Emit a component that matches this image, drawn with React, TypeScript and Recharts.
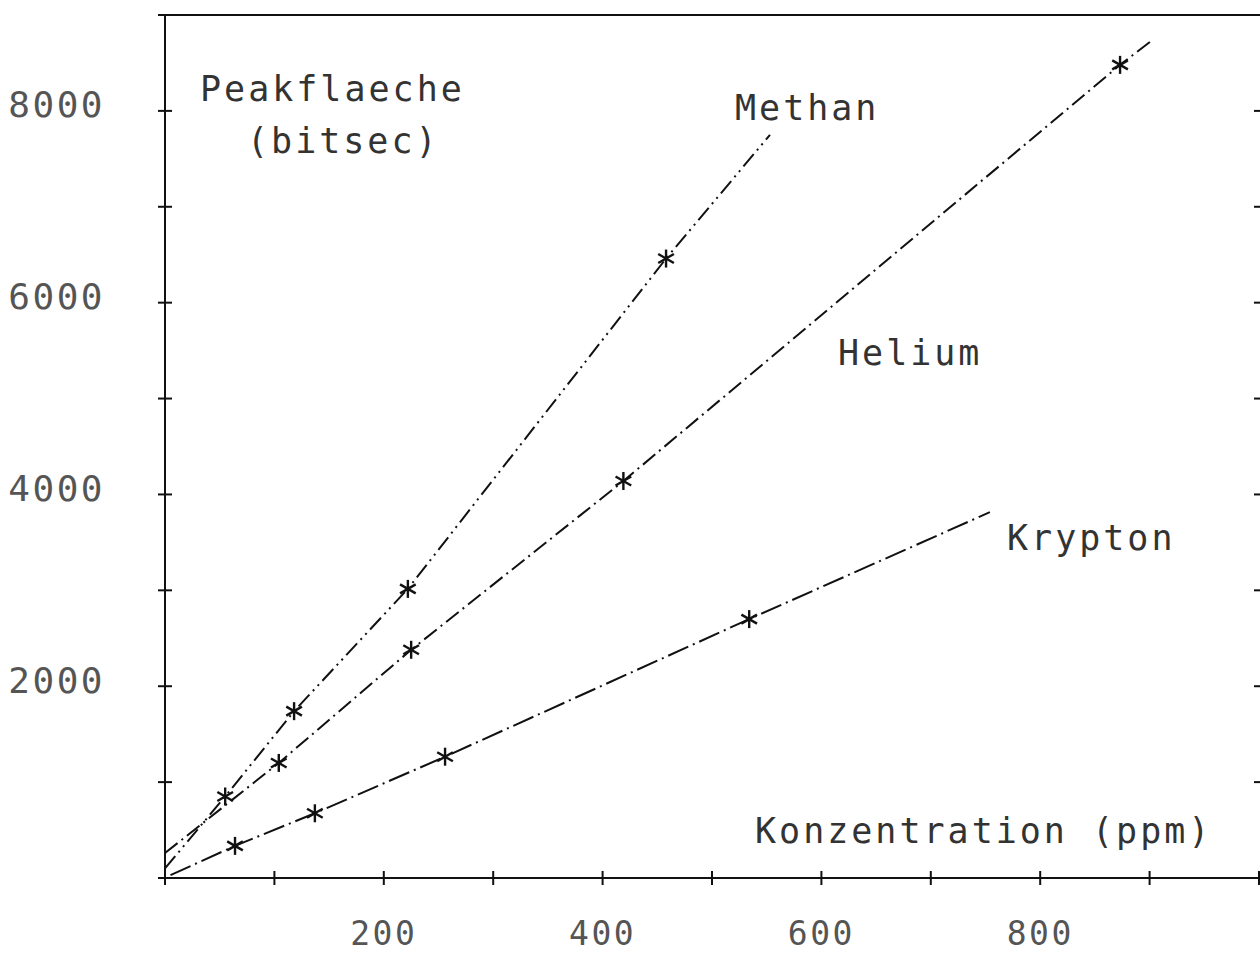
import React from "react";
import { ComposedChart, Line, Scatter, XAxis, YAxis } from "recharts";

// measured points (Konzentration ppm / Peakflaeche bitsec)
const methanConc = [55, 118, 222, 458];
const methanArea = [850, 1740, 3015, 6460];
const heliumConc = [104, 225, 419, 873];
const heliumArea = [1200, 2380, 4140, 8480];
const kryptonConc = [64, 137, 256, 534];
const kryptonArea = [335, 675, 1265, 2700];

// drawn calibration curves
const methanCurveConc = [0, 55, 118, 222, 458, 553];
const methanCurveArea = [100, 850, 1740, 3015, 6460, 7750];
const heliumCurveConc = [0, 104, 225, 419, 873, 902];
const heliumCurveArea = [260, 1200, 2380, 4140, 8480, 8734];
const kryptonCurveConc = [5, 64, 137, 256, 534, 754];
const kryptonCurveArea = [30, 335, 675, 1265, 2700, 3815];

const xTicks = [0, 100, 200, 300, 400, 500, 600, 700, 800, 900, 1000];
const xLabels = [200, 400, 600, 800];
const yTicks = [0, 1000, 2000, 3000, 4000, 5000, 6000, 7000, 8000, 9000];
const yLabels = [2000, 4000, 6000, 8000];

const FONT = "'DejaVu Sans Mono', monospace";
const INK = "#111";

const zip = (xs: number[], ys: number[]) => xs.map((x, i) => ({ x, y: ys[i] }));

const Star = (props: any) => {
  const { cx, cy } = props;
  if (cx == null || cy == null) return null;
  const r = 9;
  return (
    <g stroke={INK} strokeWidth={2.4}>
      <line x1={cx} y1={cy - r} x2={cx} y2={cy + r} />
      <line x1={cx - r * 0.87} y1={cy - r * 0.5} x2={cx + r * 0.87} y2={cy + r * 0.5} />
      <line x1={cx - r * 0.87} y1={cy + r * 0.5} x2={cx + r * 0.87} y2={cy - r * 0.5} />
    </g>
  );
};

const LeftTick = (props: any) => {
  const { x, y, payload } = props;
  const v = payload.value;
  return (
    <g>
      <line x1={x - 7} x2={x + 7} y1={y} y2={y} stroke={INK} strokeWidth={2} />
      {yLabels.includes(v) && (
        <text
          x={x - 60}
          y={y - 6}
          textAnchor="end"
          dominantBaseline="central"
          fontFamily={FONT}
          fontSize={36}
          letterSpacing={2.5}
          fill="#555"
        >
          {v}
        </text>
      )}
    </g>
  );
};

const RightTick = (props: any) => {
  const { x, y } = props;
  return <line x1={x - 5} x2={x + 3} y1={y} y2={y} stroke={INK} strokeWidth={2} />;
};

const BottomTick = (props: any) => {
  const { x, y, payload } = props;
  const v = payload.value;
  return (
    <g>
      <line x1={x} x2={x} y1={y - 7} y2={y + 7} stroke={INK} strokeWidth={2} />
      {xLabels.includes(v) && (
        <text
          x={x}
          y={y + 67}
          textAnchor="middle"
          fontFamily={FONT}
          fontSize={33}
          letterSpacing={2.5}
          fill="#555"
        >
          {v}
        </text>
      )}
    </g>
  );
};

const TopTick = (props: any) => {
  const { x, y } = props;
  return <line x1={x} x2={x} y1={y - 7} y2={y + 7} stroke={INK} strokeWidth={2} />;
};

const labelStyle = {
  fontFamily: FONT,
  fontSize: 35,
  letterSpacing: 3,
  fill: "#333",
};

export default function App() {
  return (
    <div style={{ position: "absolute", left: 0, top: 0, width: 1260, height: 953, background: "#fff" }}>
      <ComposedChart width={1260} height={953} margin={{ top: 0, right: 0, bottom: 0, left: 0 }}>
        <XAxis
          dataKey="x"
          type="number"
          domain={[0, 1000]}
          ticks={xTicks}
          interval={0}
          height={75}
          tickSize={0}
          tickMargin={0}
          axisLine={{ stroke: INK, strokeWidth: 2 }}
          tick={<BottomTick />}
          allowDataOverflow
        />
        <XAxis
          xAxisId="top"
          orientation="top"
          type="number"
          domain={[0, 1000]}
          ticks={xTicks}
          interval={0}
          height={15}
          tickSize={0}
          tickMargin={0}
          axisLine={{ stroke: INK, strokeWidth: 2 }}
          tick={<TopTick />}
          allowDataOverflow
        />
        <YAxis
          dataKey="y"
          type="number"
          domain={[0, 9000]}
          ticks={yTicks}
          interval={0}
          width={165}
          tickSize={0}
          tickMargin={0}
          axisLine={{ stroke: INK, strokeWidth: 2 }}
          tick={<LeftTick />}
          allowDataOverflow
        />
        <YAxis
          yAxisId="right"
          orientation="right"
          type="number"
          domain={[0, 9000]}
          ticks={yTicks}
          interval={0}
          width={1}
          tickSize={0}
          tickMargin={0}
          axisLine={false}
          tick={<RightTick />}
          allowDataOverflow
        />
        <Line
          data={zip(methanCurveConc, methanCurveArea)}
          dataKey="y"
          type="linear"
          stroke={INK}
          strokeWidth={2}
          strokeDasharray="16 5 2 5 2 5"
          dot={false}
          isAnimationActive={false}
        />
        <Line
          data={zip(heliumCurveConc, heliumCurveArea)}
          dataKey="y"
          type="linear"
          stroke={INK}
          strokeWidth={2}
          strokeDasharray="16 5 2 5"
          dot={false}
          isAnimationActive={false}
        />
        <Line
          data={zip(kryptonCurveConc, kryptonCurveArea)}
          dataKey="y"
          type="linear"
          stroke={INK}
          strokeWidth={2}
          strokeDasharray="22 5 2 5"
          dot={false}
          isAnimationActive={false}
        />
        <Scatter data={zip(methanConc, methanArea)} shape={Star} isAnimationActive={false} />
        <Scatter data={zip(heliumConc, heliumArea)} shape={Star} isAnimationActive={false} />
        <Scatter data={zip(kryptonConc, kryptonArea)} shape={Star} isAnimationActive={false} />
      </ComposedChart>
      <svg
        width={1260}
        height={953}
        style={{ position: "absolute", left: 0, top: 0, pointerEvents: "none" }}
      >
        <text x={200} y={101} {...labelStyle}>Peakflaeche</text>
        <text x={247} y={153} {...labelStyle}>(bitsec)</text>
        <text x={735} y={120} {...labelStyle}>Methan</text>
        <text x={838} y={365} {...labelStyle}>Helium</text>
        <text x={1007} y={550} {...labelStyle}>Krypton</text>
        <text x={755} y={843} {...labelStyle}>Konzentration (ppm)</text>
      </svg>
    </div>
  );
}
